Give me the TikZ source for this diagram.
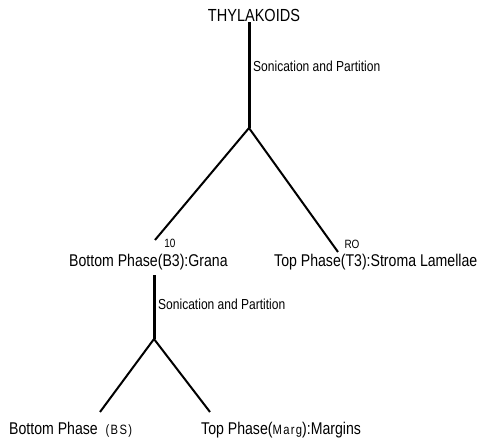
\documentclass[tikz,border=0pt]{standalone}
\usepackage{fontspec}
\setmainfont{Liberation Sans}[FakeStretch=0.83]
\usetikzlibrary{positioning}

\begin{document}
\begin{tikzpicture}[
  x=1pt, y=-1pt,
  phase/.style={inner sep=1pt, anchor=west, font=\fontsize{17}{19}\selectfont},
  title/.style={inner sep=1pt, font=\fontsize{17.5}{19}\selectfont},
  sonic/.style={inner sep=1pt, anchor=west, font=\fontsize{14.5}{16}\selectfont},
  tag/.style={inner sep=0.5pt, font=\fontsize{12}{13}\selectfont},
  stem/.style={line width=3pt},
  arm/.style={line width=2pt},
]
\newcommand{\smallpart}[1]{{\fontsize{13.5}{14}\selectfont\addfontfeature{LetterSpace=10}#1}}
% ---- frame ----
\useasboundingbox (0,0) rectangle (483,443);

% ---- first partition ----
\node[title] (thyl) at (254,15) {THYLAKOIDS};
\coordinate (fork1) at (249,128);
\coordinate (armL1) at (155,240);
\coordinate (armR1) at (338,252);
\draw[stem] (thyl.south -| fork1) -- (fork1);
\node[sonic] (son1) at (252,66) {Sonication and Partition};
\draw[arm] (armL1) -- (fork1) -- (armR1);
\node[tag] (ten) at (170,243) {10};
\node[tag] (ro) at (352,244) {RO};
\node[phase] (grana) at (68,262) {Bottom Phase(B3):Grana};
\node[phase] (stroma) at (273,262) {Top Phase(T3):Stroma Lamellae};

% ---- second partition ----
\coordinate (fork2) at (154,339);
\coordinate (armL2) at (100,412);
\coordinate (armR2) at (210,412);
\draw[stem] ([yshift=-4pt]grana.south -| fork2) -- (fork2);
\node[sonic] (son2) at (157,304) {Sonication and Partition};
\draw[arm] (armL2) -- (fork2) -- (armR2);
\node[phase] (bs) at (8,430) {Bottom Phase\ \ \smallpart{(BS)}};
\node[phase] (marg) at (200,430) {Top Phase(\smallpart{Marg}):Margins};
\end{tikzpicture}
\end{document}
